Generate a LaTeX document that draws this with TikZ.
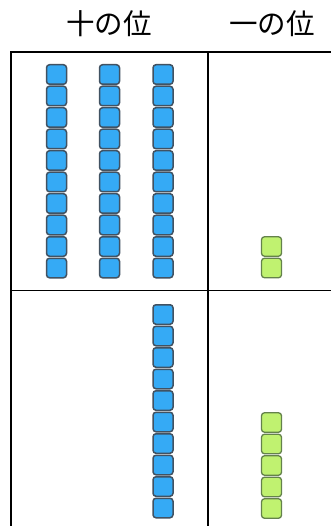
\documentclass[tikz,border=0pt]{standalone}
\usepackage{fontspec}
\newfontfamily\jpfont{Noto Sans CJK JP}
\definecolor{tenfill}{RGB}{53,170,245}
\definecolor{tenline}{RGB}{65,82,98}
\definecolor{onefill}{RGB}{192,242,112}
\definecolor{oneline}{RGB}{100,130,75}
\tikzset{
  tenblock/.style={draw=tenline, fill=tenfill, line width=1.5pt, rounded corners=3pt,
    minimum width=20pt, minimum height=19.5pt, inner sep=0pt},
  oneblock/.style={draw=oneline, fill=onefill, line width=1.3pt, rounded corners=3pt,
    minimum width=20pt, minimum height=19.5pt, inner sep=0pt},
  gridline/.style={line width=1.5pt, black},
  header/.style={font=\jpfont\fontsize{28.5}{31}\selectfont, inner sep=0pt}
}
\begin{document}
\begin{tikzpicture}[x=1pt,y=1pt]
\useasboundingbox (0,0) rectangle (330,-526);
\fill[white] (0,0) rectangle (330,-526);
% headers
\node[header] (h1) at (109,-24) {十の位};
\node[header] (h2) at (272,-24) {一の位};
% table
\draw[gridline] (11,-530) -- (11,-52) -- (335,-52);
\draw[gridline] (208,-52) -- (208,-530);
\draw[gridline] (11,-290.5) -- (335,-290.5);
% top-left: three tens
\foreach \c/\x in {1/56.5,2/109.5,3/163}{
  \foreach \i in {0,...,9}{
    \node[tenblock] (ta\c-\i) at (\x,{-74.5-21.5*\i}) {};
  }
}
% top-right: two ones
\foreach \i in {0,1}{
  \node[oneblock] (oa\i) at (271.5,{-246.5-21.5*\i}) {};
}
% bottom-left: one ten
\foreach \i in {0,...,9}{
  \node[tenblock] (tb\i) at (163,{-314.5-21.5*\i}) {};
}
% bottom-right: five ones
\foreach \i in {0,...,4}{
  \node[oneblock] (ob\i) at (271.5,{-422.5-21.5*\i}) {};
}
\end{tikzpicture}
\end{document}
